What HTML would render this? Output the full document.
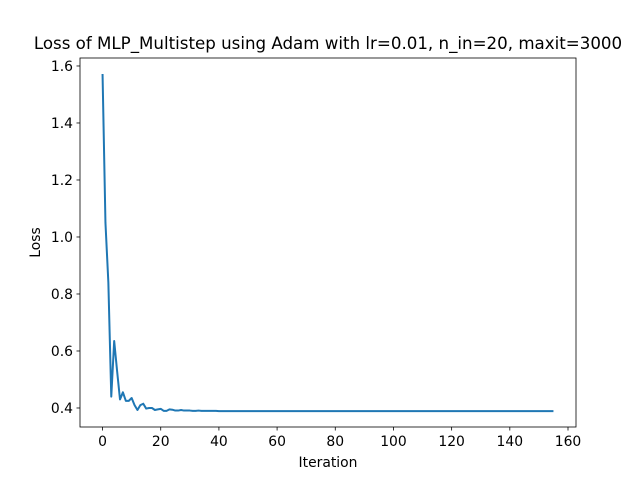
<!DOCTYPE html>
<html><head><meta charset="utf-8"><style>
body{margin:0;background:#fff;}
svg text{font-family:"DejaVu Sans","Liberation Sans",sans-serif;fill:#000;}
</style></head><body>
<svg id="chart" width="640" height="480" viewBox="0 0 640 480" xmlns="http://www.w3.org/2000/svg">
<rect width="640" height="480" fill="#fff"/>
<text x="328" y="49" font-size="16.67" text-anchor="middle">Loss of MLP_Multistep using Adam with lr=0.01, n_in=20, maxit=3000</text>
<g id="plot"></g>
<rect x="80" y="58" width="496" height="369" fill="none" stroke="#000" stroke-width="0.8"/>
<text x="328" y="467" font-size="13.9" text-anchor="middle">Iteration</text>
<text x="0" y="0" font-size="13.9" text-anchor="middle" transform="translate(40,242.5) rotate(-90)">Loss</text>
</svg>
<script>
const headValues=[1.572,1.05,0.84,0.44,0.635,0.53,0.43,0.455,0.425,0.425,0.435,0.41,0.393,0.41,0.415,0.398,0.40,0.40,0.393,0.395,0.397,0.39,0.39,0.395,0.394,0.391,0.391,0.393,0.391,0.391,0.391,0.390,0.390,0.391,0.390,0.390,0.390,0.390,0.390,0.390];
const tailValue=0.389;
const totalPoints=156;
const xTicks=[0,20,40,60,80,100,120,140,160];
const yTicks=[0.4,0.6,0.8,1.0,1.2,1.4,1.6];
const yTickLabels=["0.4","0.6","0.8","1.0","1.2","1.4","1.6"];

const values=[];
for(let i=0;i<totalPoints;i++) values.push(i<headValues.length?headValues[i]:tailValue);

const L=80,R=576,T=58,B=427;
const xmin=-7.75,xmax=162.75,ymin=0.3333,ymax=1.628;
const sx=v=>L+(v-xmin)/(xmax-xmin)*(R-L);
const sy=v=>B-(v-ymin)/(ymax-ymin)*(B-T);
const NS="http://www.w3.org/2000/svg";
const svg=document.getElementById('chart');
const plot=document.getElementById('plot');
function mk(tag,attrs,parent){const e=document.createElementNS(NS,tag);for(const k in attrs)e.setAttribute(k,attrs[k]);parent.appendChild(e);return e;}

xTicks.forEach(t=>{
  const x=sx(t);
  const l=mk('line',{x1:x,x2:x,y1:B,y2:B+3.5,stroke:'#000','stroke-width':0.8},svg);
  
  
  const tx=mk('text',{x:x,y:B+19,'font-size':13.9,'text-anchor':'middle'},svg);
  tx.textContent=t;
  
  
});
yTicks.forEach((t,i)=>{
  const y=sy(t);
  const l=mk('line',{x1:L-3.5,x2:L,y1:y,y2:y,stroke:'#000','stroke-width':0.8},svg);
  
  
  const tx=mk('text',{x:L-7,y:y+5,'font-size':13.9,'text-anchor':'end'},svg);
  tx.textContent=yTickLabels[i];
  
  
});
const pts=values.map((v,i)=>sx(i).toFixed(2)+','+sy(v).toFixed(2)).join(' ');
const line=mk('polyline',{points:pts,fill:'none',stroke:'#1f77b4','stroke-width':2,'stroke-linejoin':'round'},plot);


</script>
</body></html>
